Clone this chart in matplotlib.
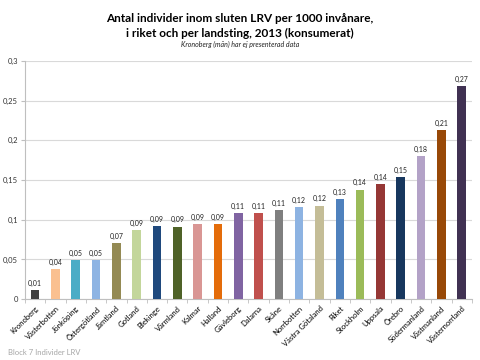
import matplotlib
matplotlib.use("Agg")
import matplotlib.pyplot as plt
import numpy as np

# data
regions = ["Kronoberg", "Västerbotten", "Jönköping", "Östergötland", "Jämtland",
           "Gotland", "Blekinge", "Värmland", "Kalmar", "Halland", "Gävleborg",
           "Dalarna", "Skåne", "Norrbotten", "Västra Götaland", "Riket",
           "Stockholm", "Uppsala", "Örebro", "Södermanland", "Västmanland",
           "Västernorrland"]
values = [0.011, 0.038, 0.0496, 0.0496, 0.071, 0.087, 0.092, 0.0914, 0.094,
          0.094, 0.108, 0.108, 0.112, 0.116, 0.1177, 0.126, 0.138, 0.1447,
          0.154, 0.1796, 0.2124, 0.268]
colors = ["#404040", "#FAC090", "#4BACC6", "#8EB4E3", "#948A54", "#C3D69B",
          "#1F497D", "#4F6228", "#D99694", "#E46C0A", "#8064A2", "#C0504D",
          "#7F7F7F", "#8DB3E2", "#C4BD97", "#4F81BD", "#9BBB59", "#953735",
          "#17375E", "#B3A2C7", "#984807", "#403152"]
yticks = [0, 0.05, 0.1, 0.15, 0.2, 0.25, 0.3]

plt.rcParams['font.family'] = ['Lato', 'DejaVu Sans']

fig = plt.figure(figsize=(4.8, 3.6), dpi=100)
ax = fig.add_axes([0.052, 0.169, 0.931, 0.662])

x = np.arange(len(regions))
ax.bar(x, values, width=0.42, color=colors, zorder=3)

for xi, v in zip(x, values):
    ax.text(xi, v + 0.004, f"{v:.2f}".replace(".", ","), ha="center",
            va="bottom", fontsize=5, color="#222222")

ax.set_xlim(-0.5, len(regions) - 0.5)
ax.set_ylim(0, 0.3)
ax.set_yticks(yticks)
ax.set_yticklabels([f"{t:g}".replace(".", ",") for t in yticks], fontsize=5.5,
                   color="#333333")
ax.yaxis.grid(True, color="#D9D9D9", linewidth=0.8, zorder=0)

ax.set_xticks(x)
ax.set_xticklabels(regions, rotation=45, ha="right", rotation_mode="anchor",
                   fontsize=5.5)
ax.tick_params(axis="x", which="major", length=0, pad=4)
ax.set_xticks(np.arange(-0.5, len(regions)), minor=True)
ax.tick_params(axis="x", which="minor", length=3, color="#BFBFBF")
ax.tick_params(axis="y", length=3, color="#BFBFBF", pad=2)

for side in ["top", "right"]:
    ax.spines[side].set_visible(False)
for side in ["left", "bottom"]:
    ax.spines[side].set_color("#BFBFBF")

fig.text(0.5, 0.928, "Antal individer inom sluten LRV per 1000 invånare,\n"
         "i riket och per landsting, 2013 (konsumerat)", ha="center",
         va="center", fontsize=8.5, fontweight="bold", linespacing=1.4)
fig.text(0.5, 0.876, "Kronoberg (män) har ej presenterad data", ha="center",
         va="center", fontsize=5, style="italic", color="#222222")
fig.text(0.017, 0.02, "Block 7 Individer LRV", ha="left", va="center",
         fontsize=5.5, color="#A6A6A6")

fig.savefig("out.png", dpi=100)
